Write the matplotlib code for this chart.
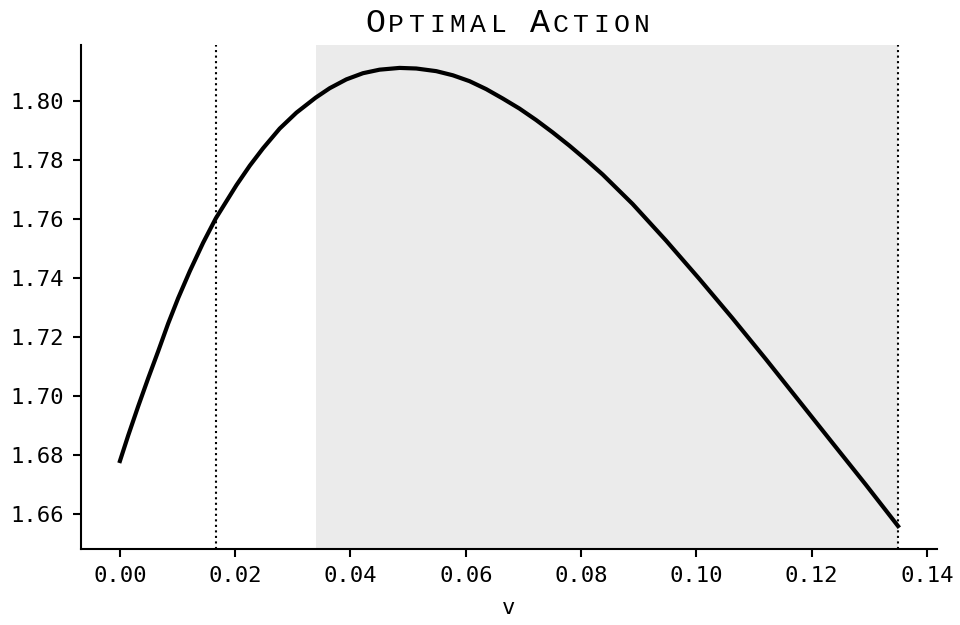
import matplotlib
matplotlib.use("Agg")
import matplotlib.pyplot as plt

# curve
v = [0.0, 0.00144, 0.00317, 0.00490, 0.00664, 0.00837, 0.01010, 0.01213,
     0.01443, 0.01663, 0.02022, 0.02253, 0.02483, 0.02772, 0.03062, 0.03396,
     0.03639, 0.03928, 0.04216, 0.04505, 0.04852, 0.05141, 0.05488, 0.05775,
     0.06065, 0.06354, 0.06642, 0.06931, 0.07221, 0.07508, 0.07798, 0.08087,
     0.08375, 0.08894, 0.09473, 0.10050, 0.10627, 0.11206, 0.11783, 0.12360,
     0.12939, 0.13500]
action = [1.6779, 1.6866, 1.6965, 1.7060, 1.7152, 1.7246, 1.7332, 1.7424,
          1.7520, 1.7603, 1.7716, 1.7782, 1.7841, 1.7908, 1.7962, 1.8013,
          1.8045, 1.8075, 1.8096, 1.8108, 1.8114, 1.8112, 1.8103, 1.8089,
          1.8069, 1.8042, 1.8010, 1.7976, 1.7937, 1.7895, 1.7850, 1.7802,
          1.7752, 1.7652, 1.7528, 1.7398, 1.7264, 1.7125, 1.6983, 1.6841,
          1.6699, 1.6558]

vlines = [0.01664, 0.135]
shade = (0.034, 0.135)
title = "Optimal Action"

mono = "DejaVu Sans Mono"
plt.rcParams["font.family"] = mono

fig = plt.figure(figsize=(9.6, 6.25), dpi=100)
ax = fig.add_axes([0.0844, 0.1216, 0.8916, 0.8064])

ax.axvspan(shade[0], shade[1], color="#ebebeb", lw=0, zorder=0)
for x in vlines:
    ax.axvline(x, color="black", ls=":", lw=1.5, zorder=1)
ax.plot(v, action, color="black", lw=3, zorder=2, solid_joinstyle="round")

ax.set_xticks([0.0, 0.02, 0.04, 0.06, 0.08, 0.10, 0.12, 0.14])
ax.set_yticks([1.66, 1.68, 1.70, 1.72, 1.74, 1.76, 1.78, 1.80])
ax.xaxis.set_major_formatter(matplotlib.ticker.FormatStrFormatter("%.2f"))
ax.yaxis.set_major_formatter(matplotlib.ticker.FormatStrFormatter("%.2f"))
ax.tick_params(labelsize=16, width=1.5, length=6, pad=6)
ax.set_xlabel("v", fontsize=16, labelpad=9)

for s in ["top", "right"]:
    ax.spines[s].set_visible(False)
for s in ["left", "bottom"]:
    ax.spines[s].set_linewidth(1.5)

# small-caps title, one character at a time at a fixed pitch
pitch = 20.5 / 960
x0 = 509 / 960 - len(title) * pitch / 2
for i, ch in enumerate(title):
    big = ch.isupper()
    fig.text(x0 + (i + 0.5) * pitch, 1 - 32 / 625, ch.upper(),
             ha="center", va="baseline", family="Liberation Mono",
             fontsize=24 if big else 19)

fig.savefig("out.png", dpi=100)
